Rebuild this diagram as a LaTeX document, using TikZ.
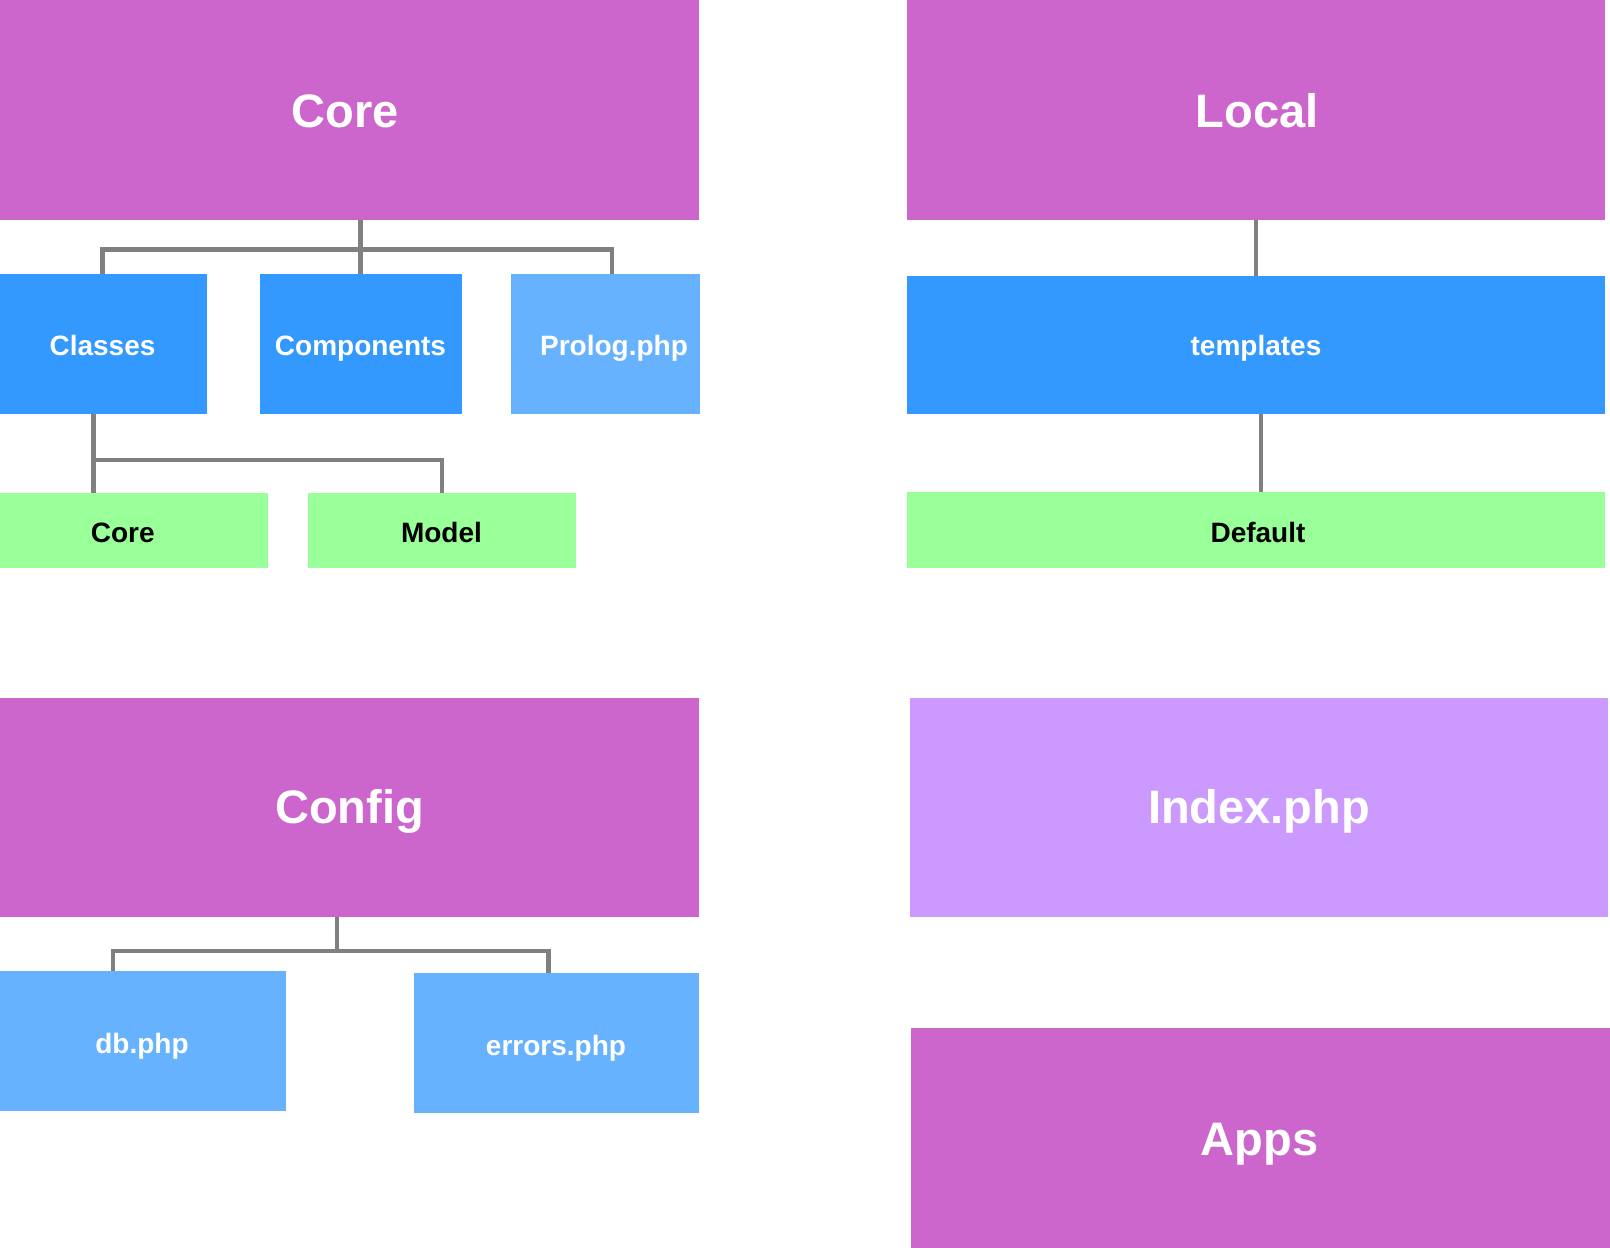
\documentclass[tikz,border=0pt]{standalone}
\usepackage{fontspec}
\setmainfont{Liberation Sans}
\definecolor{cpurple}{HTML}{CC66CC}
\definecolor{cblue}{HTML}{3399FF}
\definecolor{clblue}{HTML}{66B2FF}
\definecolor{cgreen}{HTML}{99FF99}
\definecolor{clav}{HTML}{CC99FF}
\definecolor{cgray}{HTML}{808080}
\begin{document}
\begin{tikzpicture}[x=1pt,y=-1pt,
  box/.style={anchor=north west,inner sep=0pt,outer sep=0pt,draw=none},
  bigtxt/.style={anchor=base,inner sep=0pt,text=white,font=\fontsize{47}{56}\selectfont\bfseries},
  smltxt/.style={anchor=base,inner sep=0pt,text=white,font=\fontsize{28}{34}\selectfont\bfseries},
  conn/.style={draw=cgray,line width=4.6pt}]
\useasboundingbox (0,0) rectangle (1610,1248);
% boxes
\node[box,fill=cpurple,minimum width=699.3pt,minimum height=219.7pt] (core) at (0,0) {};
\node[box,fill=cpurple,minimum width=698.3pt,minimum height=219.7pt] (local) at (906.7,0) {};
\node[box,fill=cblue,minimum width=207.4pt,minimum height=139.8pt] (classes) at (0,274) {};
\node[box,fill=cblue,minimum width=202.2pt,minimum height=139.8pt] (comp) at (259.8,274) {};
\node[box,fill=clblue,minimum width=189pt,minimum height=139.8pt] (prolog) at (511.3,274) {};
\node[box,fill=cblue,minimum width=698.3pt,minimum height=137.6pt] (templ) at (906.7,276.2) {};
\node[box,fill=cgreen,minimum width=268pt,minimum height=74.9pt] (coreg) at (0,492.9) {};
\node[box,fill=cgreen,minimum width=268pt,minimum height=74.9pt] (model) at (308,492.9) {};
\node[box,fill=cgreen,minimum width=698.3pt,minimum height=76pt] (default) at (906.7,491.8) {};
\node[box,fill=cpurple,minimum width=699.3pt,minimum height=218.8pt] (config) at (0,698.2) {};
\node[box,fill=clav,minimum width=698.3pt,minimum height=218.8pt] (index) at (909.7,698.2) {};
\node[box,fill=cpurple,minimum width=699.2pt,minimum height=220.2pt] (apps) at (910.8,1027.8) {};
\node[box,fill=clblue,minimum width=285.5pt,minimum height=139.6pt] (db) at (0,971.4) {};
\node[box,fill=clblue,minimum width=285.5pt,minimum height=139.6pt] (errors) at (413.8,973.4) {};
% texts
\node[bigtxt] (coreT) at (345.5,127) {Core};
\node[bigtxt] (localT) at (1257,127) {Local};
\node[smltxt] (classesT) at (102.5,355) {Classes};
\node[smltxt] (compT) at (360.5,355) {Components};
\node[smltxt] (prologT) at (614,355) {Prolog.php};
\node[smltxt] (templT) at (1256,355) {templates};
\node[smltxt,text=black] (coregT) at (122.7,542) {Core};
\node[smltxt,text=black] (modelT) at (441.5,542) {Model};
\node[smltxt,text=black] (defaultT) at (1258,542) {Default};
\node[bigtxt] (configT) at (349.5,823) {Config};
\node[bigtxt] (indexT) at (1259,823) {Index.php};
\node[bigtxt] (appsT) at (1259.5,1155) {Apps};
\node[smltxt] (dbT) at (142,1053) {db.php};
\node[smltxt] (errorsT) at (556,1055) {errors.php};
% connectors: Core tree
\coordinate (j1) at (360.4,249.5);
\draw[conn] (core.south -| j1) -- (j1);
\draw[conn] ([xshift=-1pt]classes.north) |- (j1) -| ([xshift=6.2pt]prolog.north);
\draw[conn] (j1) -- (comp.north -| j1);
% Classes tree
\coordinate (j2) at (93.4,460);
\draw[conn] (classes.south -| j2) -- (coreg.north -| j2);
\draw[conn] (j2) -| (model.north);
% Local tree
\draw[conn] (local.south) -- (templ.north);
\draw[conn] ([xshift=5pt]templ.south) -- ([xshift=5pt]default.north);
% Config tree
\coordinate (j3) at (336.8,950.8);
\draw[conn] (config.south -| j3) -- (j3);
\draw[conn] ([xshift=-29.7pt]db.north) |- (j3) -| ([xshift=-8.2pt]errors.north);
\end{tikzpicture}
\end{document}
